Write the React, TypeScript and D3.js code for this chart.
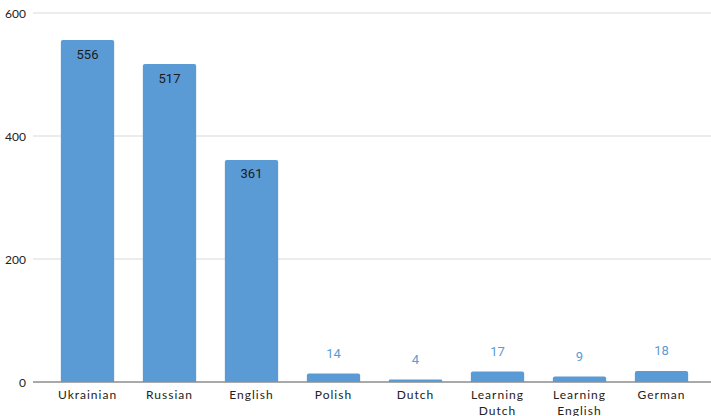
import React from "react";
import * as d3 from "d3";

const categories = ["Ukrainian", "Russian", "English", "Polish", "Dutch", "Learning Dutch", "Learning English", "German"];
const values = [556, 517, 361, 14, 4, 17, 9, 18];
const yTicks = [0, 200, 400, 600];

export default function App() {
  const W = 711;
  const H = 416;
  const plotLeft = 33;
  const plotRight = 711;

  const x = d3.scaleBand<string>().domain(categories).range([46.5, 702.5]).paddingInner(0.35).paddingOuter(0.175);
  const y = d3.scaleLinear().domain([0, 600]).range([382, 13]);

  const barColor = "#5b9bd5";

  return (
    <svg width={W} height={H} style={{ position: "absolute", left: 0, top: 0, background: "#fff" }}>
      {yTicks.map((t) => (
        <g key={t}>
          <line
            x1={plotLeft}
            x2={plotRight}
            y1={y(t)}
            y2={y(t)}
            stroke={t === 0 ? "#8c8c8c" : "#d9d9d9"}
            strokeWidth={t === 0 ? 1.5 : 1}
          />
          <text
            x={26}
            y={y(t)}
            textAnchor="end"
            dominantBaseline="central"
            style={{ fontFamily: "Lato, sans-serif", fontSize: 12, fill: "#222" }}
          >
            {t}
          </text>
        </g>
      ))}

      {categories.map((c, i) => {
        const v = values[i];
        const bx = x(c)!;
        const bw = x.bandwidth();
        const top = y(v);
        const h = y(0) - top;
        const r = Math.min(2, h / 2);
        const path = `M${bx},${y(0)} V${top + r} Q${bx},${top} ${bx + r},${top} H${bx + bw - r} Q${bx + bw},${top} ${bx + bw},${top + r} V${y(0)} Z`;
        const inside = h > 40;
        const words = c.split(" ");
        return (
          <g key={c}>
            <path d={path} fill={barColor} />
            <text
              x={bx + bw / 2}
              y={inside ? top + 14 : top - 20}
              textAnchor="middle"
              dominantBaseline="central"
              style={{ fontFamily: "Roboto, sans-serif", fontSize: 13, fill: inside ? "#1a1a1a" : "#5b9bd5" }}
            >
              {v}
            </text>
            {words.map((w, j) => (
              <text
                key={j}
                x={bx + bw / 2}
                y={394 + j * 16}
                textAnchor="middle"
                dominantBaseline="central"
                style={{ fontFamily: "Lato, sans-serif", fontSize: 12, letterSpacing: 1, fill: "#222" }}
              >
                {w}
              </text>
            ))}
          </g>
        );
      })}
    </svg>
  );
}
